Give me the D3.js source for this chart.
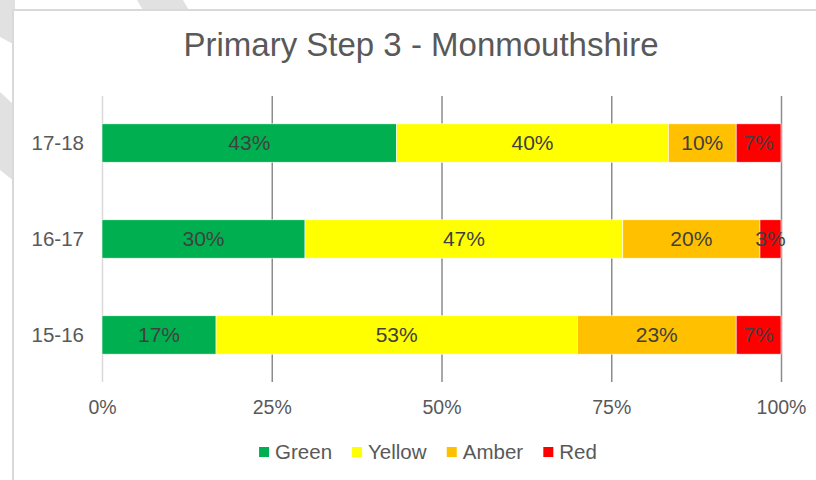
<!DOCTYPE html>
<html>
<head>
<meta charset="utf-8">
<script src="https://cdn.jsdelivr.net/npm/d3@7"></script>
<style>
  body { margin: 0; background: #fff; }
  svg { display: block; font-family: "Liberation Sans", Arial, sans-serif; }
</style>
</head>
<body>
<svg id="chart" width="816" height="480"></svg>
<script>
// Chart data
const years = ["17-18", "16-17", "15-16"];
const bands = ["Green", "Yellow", "Amber", "Red"];
const green = [43.4, 29.9, 16.8];
const yellow = [40.0, 46.8, 53.2];
const amber = [10.0, 20.2, 23.4];
const red = [6.6, 3.1, 6.6];
const xTicks = [0, 25, 50, 75, 100];

const colours = { Green: "#00B050", Yellow: "#FFFF00", Amber: "#FFC000", Red: "#FF0000" };

const rows = years.map((y, i) => ({ year: y, Green: green[i], Yellow: yellow[i], Amber: amber[i], Red: red[i] }));

const svg = d3.select("#chart");

// Background stripes peeking out behind the chart frame
const stripes = [
    [[137, 0], [183, 0], [190, 12], [144, 12]],
    [[0, 0], [15, 0], [15, 45], [0, 37]],
    [[0, 92], [15, 106], [15, 182], [0, 170]]
];
svg.selectAll("polygon.stripe")
    .data(stripes)
    .enter()
    .append("polygon")
    .attr("points", d => d.map(p => p.join(",")).join(" "))
    .attr("fill", "#e1e1e1");

// Chart frame
svg.append("rect")
    .attr("x", 13)
    .attr("y", 10)
    .attr("width", 830)
    .attr("height", 500)
    .attr("fill", "#fff")
    .attr("stroke", "#d9d9d9")
    .attr("stroke-width", 2);

// Title
svg.append("text")
    .attr("x", 421)
    .attr("y", 56)
    .attr("text-anchor", "middle")
    .attr("fill", "#595959")
    .attr("font-size", 33)
    .text("Primary Step 3 - Monmouthshire");

// Scales
const margin = { left: 102, right: 781, top: 96, bottom: 382 };

const xScale = d3.scaleLinear()
    .domain([0, 100])
    .range([margin.left, margin.right]);

const yScale = d3.scaleBand()
    .domain(years)
    .range([margin.top, margin.bottom])
    .paddingInner(0.6)
    .paddingOuter(0.29);

// Vertical gridlines
svg.append("g")
    .attr("transform", "translate(0," + margin.bottom + ")")
    .call(d3.axisBottom(xScale)
        .tickValues(xTicks)
        .tickSize(-(margin.bottom - margin.top))
        .tickFormat(""))
    .call(g => g.select(".domain").remove())
    .call(g => g.selectAll(".tick line")
        .attr("stroke", (d) => d === 0 ? "#d9d9d9" : "#8c8c8c")
        .attr("stroke-width", 1.5));

// X tick labels
svg.append("g")
    .attr("transform", "translate(0," + margin.bottom + ")")
    .call(d3.axisBottom(xScale)
        .tickValues(xTicks)
        .tickSize(0)
        .tickPadding(18)
        .tickFormat(d => d + "%"))
    .call(g => g.select(".domain").remove())
    .call(g => g.selectAll("text")
        .attr("fill", "#595959")
        .attr("font-size", 19.5)
        .attr("font-family", "Liberation Sans, Arial, sans-serif"));

// Y labels
svg.append("g")
    .attr("transform", "translate(" + margin.left + ",0)")
    .call(d3.axisLeft(yScale).tickSize(0).tickPadding(18))
    .call(g => g.select(".domain").remove())
    .call(g => g.selectAll("text")
        .attr("fill", "#595959")
        .attr("font-size", 20.5)
        .attr("font-family", "Liberation Sans, Arial, sans-serif"));

// Stacked bars
const stacked = d3.stack().keys(bands)(rows);

const layers = svg.selectAll("g.layer")
    .data(stacked)
    .enter()
    .append("g")
    .attr("class", "layer")
    .attr("fill", d => colours[d.key]);

layers.selectAll("rect")
    .data(d => d)
    .enter()
    .append("rect")
    .attr("x", d => xScale(d[0]))
    .attr("y", d => yScale(d.data.year))
    .attr("width", d => xScale(d[1]) - xScale(d[0]))
    .attr("height", yScale.bandwidth())
    .attr("stroke", "#fff")
    .attr("stroke-width", 0.6);

// Data labels
layers.selectAll("text")
    .data(d => d)
    .enter()
    .append("text")
    .attr("x", d => (xScale(d[0]) + xScale(d[1])) / 2)
    .attr("y", d => yScale(d.data.year) + yScale.bandwidth() / 2)
    .attr("dy", "0.35em")
    .attr("text-anchor", "middle")
    .attr("fill", "#404040")
    .attr("font-size", 21)
    .text(d => Math.round(d[1] - d[0]) + "%");

// Legend
const legend = svg.append("g").attr("transform", "translate(0,452)");
let lx = 0;
const items = legend.selectAll("g")
    .data(bands)
    .enter()
    .append("g");
items.append("rect")
    .attr("y", -5)
    .attr("width", 10)
    .attr("height", 10)
    .attr("fill", d => colours[d]);
items.append("text")
    .attr("x", 16)
    .attr("dy", "0.35em")
    .attr("fill", "#595959")
    .attr("font-size", 20.5)
    .text(d => d);
items.each(function () {
    const w = this.getBBox().width;
    d3.select(this).attr("transform", "translate(" + lx + ",0)");
    lx += w + 20;
});
legend.attr("transform", "translate(" + (428 - (lx - 20) / 2) + ",452)");
</script>
</body>
</html>
